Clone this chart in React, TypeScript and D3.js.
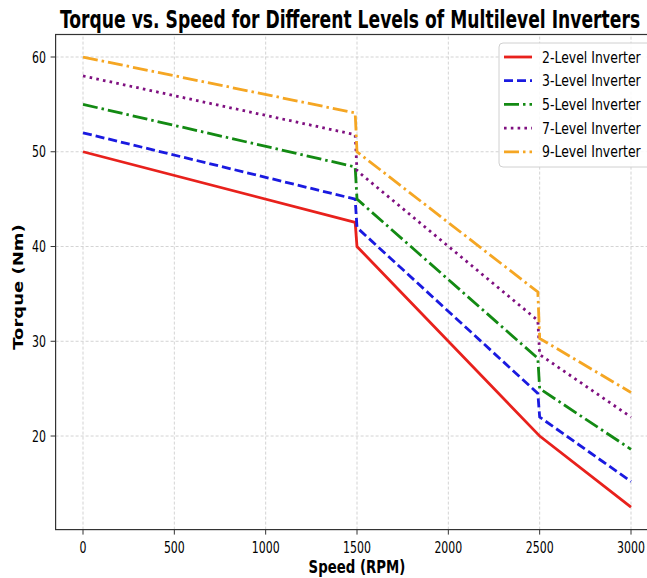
import React, { useEffect, useRef } from "react";
import * as d3 from "d3";

const speeds = [0, 1490, 1500, 2490, 2500, 3000];
const level2 = [50, 42.55, 40, 20.2, 20, 12.5];
const level3 = [52, 45, 42, 24.5, 22, 15.2];
const level5 = [55, 48.4, 45, 28.2, 25, 18.6];
const level7 = [58, 51.8, 48, 32.2, 28.6, 22];
const level9 = [60, 54.1, 50, 35.2, 30.3, 24.6];
const seriesNames = [
  "2-Level Inverter",
  "3-Level Inverter",
  "5-Level Inverter",
  "7-Level Inverter",
  "9-Level Inverter",
];
const xTicks = [0, 500, 1000, 1500, 2000, 2500, 3000];
const yTicks = [20, 30, 40, 50, 60];

const colors = ["#e8211c", "#1a1ae0", "#138a13", "#7f1080", "#f5a623"];
const dashes = ["", "9,4", "15,4,2.5,4", "2.6,4.2", "15,4,2.5,4"];

export default function App() {
  const ref = useRef<HTMLDivElement>(null);

  useEffect(() => {
    const root = d3.select(ref.current);
    root.selectAll("*").remove();
    const width = 647;
    const height = 578;

    const svg = root
      .append("svg")
      .attr("width", width)
      .attr("height", height)
      .style("position", "absolute")
      .style("left", 0)
      .style("top", 0)
      .style("font-family", "DejaVu Sans, sans-serif");

    svg.append("rect").attr("width", width).attr("height", height).attr("fill", "#fff");

    const x = d3.scaleLinear().domain([-150, 3150]).range([55.6, 658.4]);
    const y = d3.scaleLinear().domain([10.125, 62.375]).range([529.6, 34.5]);

    // the picture is squeezed sideways, so texts get a horizontal scale
    const squeezed = (g, tx, ty, txt, size, weight, anchor, sx) =>
      g
        .append("text")
        .attr("transform", `translate(${tx},${ty}) scale(${sx},1)`)
        .attr("text-anchor", anchor)
        .style("font-size", size + "px")
        .style("font-weight", weight)
        .attr("fill", "#000")
        .text(txt);

    // grid
    const grid = svg.append("g");
    xTicks.forEach((t) => {
      grid
        .append("line")
        .attr("x1", x(t))
        .attr("x2", x(t))
        .attr("y1", y.range()[0])
        .attr("y2", y.range()[1])
        .attr("stroke", "#c8c8c8")
        .attr("stroke-width", 0.8)
        .attr("stroke-dasharray", "3,2");
    });
    yTicks.forEach((t) => {
      grid
        .append("line")
        .attr("x1", x.range()[0])
        .attr("x2", x.range()[1])
        .attr("y1", y(t))
        .attr("y2", y(t))
        .attr("stroke", "#c8c8c8")
        .attr("stroke-width", 0.8)
        .attr("stroke-dasharray", "3,2");
    });

    // lines
    const all = [level2, level3, level5, level7, level9];
    const line = d3
      .line<number>()
      .x((d, i) => x(speeds[i]))
      .y((d) => y(d));
    all.forEach((vals, i) => {
      svg
        .append("path")
        .datum(vals)
        .attr("d", line)
        .attr("fill", "none")
        .attr("stroke", colors[i])
        .attr("stroke-width", 2.8)
        .attr("stroke-dasharray", dashes[i] || null);
    });

    // spines
    const [x0, x1] = x.range();
    const [yb, yt] = y.range();
    svg
      .append("rect")
      .attr("x", x0)
      .attr("y", yt)
      .attr("width", x1 - x0)
      .attr("height", yb - yt)
      .attr("fill", "none")
      .attr("stroke", "#333")
      .attr("stroke-width", 1.2);

    // ticks
    const ax = svg.append("g");
    xTicks.forEach((t) => {
      ax.append("line")
        .attr("x1", x(t))
        .attr("x2", x(t))
        .attr("y1", yb)
        .attr("y2", yb + 5)
        .attr("stroke", "#333");
      squeezed(ax, x(t), 553, String(t), 15, "normal", "middle", 0.73);
    });
    yTicks.forEach((t) => {
      ax.append("line")
        .attr("x1", x0 - 5)
        .attr("x2", x0)
        .attr("y1", y(t))
        .attr("y2", y(t))
        .attr("stroke", "#333");
      squeezed(ax, 46, y(t) + 5.5, String(t), 15, "normal", "end", 0.73);
    });

    // labels
    squeezed(svg, 350, 28, "Torque vs. Speed for Different Levels of Multilevel Inverters", 24, "bold", "middle", 0.715);
    squeezed(svg, (x0 + x1) / 2, 573, "Speed (RPM)", 18, "bold", "middle", 0.74);
    svg
      .append("text")
      .attr("transform", `translate(23,287) rotate(-90) scale(1,0.74)`)
      .attr("text-anchor", "middle")
      .style("font-size", "18px")
      .style("font-weight", "bold")
      .text("Torque (Nm)");

    // legend
    const lg = svg.append("g");
    lg.append("rect")
      .attr("x", 499)
      .attr("y", 43)
      .attr("width", 170)
      .attr("height", 124)
      .attr("rx", 4)
      .attr("fill", "#fff")
      .attr("fill-opacity", 0.85)
      .attr("stroke", "#d0d0d0");
    seriesNames.forEach((name, i) => {
      const ly = 57 + i * 23.7;
      lg.append("line")
        .attr("x1", 504)
        .attr("x2", 532)
        .attr("y1", ly)
        .attr("y2", ly)
        .attr("stroke", colors[i])
        .attr("stroke-width", 2.8)
        .attr("stroke-dasharray", dashes[i] || null);
      squeezed(lg, 542, ly + 5.5, name, 16, "normal", "start", 0.78);
    });
  }, []);

  return <div ref={ref}></div>;
}
